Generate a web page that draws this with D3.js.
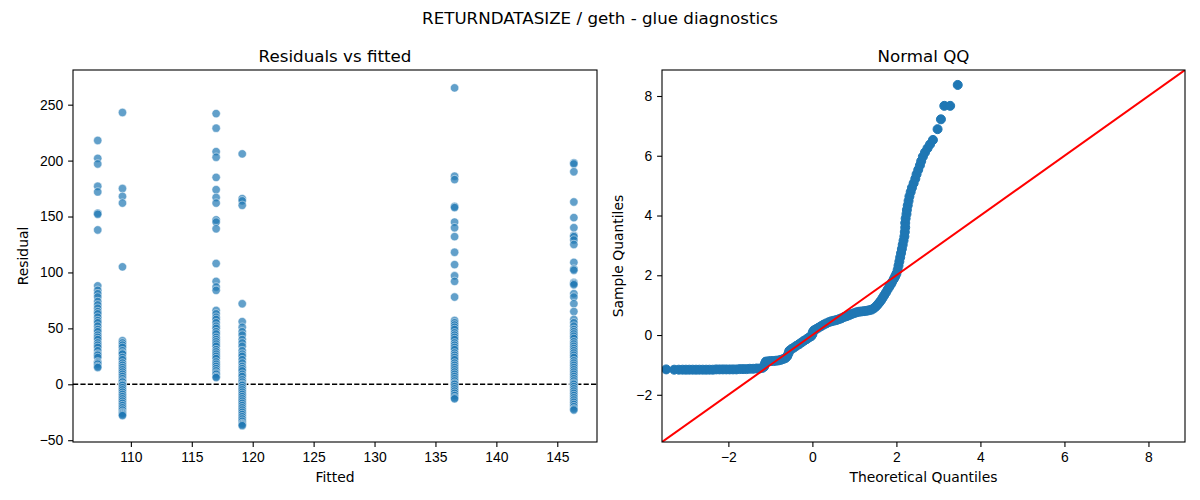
<!DOCTYPE html>
<html>
<head>
<meta charset="utf-8">
<script src="https://cdn.jsdelivr.net/npm/d3@7"></script>
<style>
  body { margin: 0; background: #fff; }
  svg { font-family: 'DejaVu Sans', sans-serif; }
  .tick text { font-size: 13.9px; fill: #000; }
  .tick line { stroke: #000; stroke-width: 1.1; }
  .title { font-size: 16.7px; fill: #000; }
  .axis-label { font-size: 13.9px; fill: #000; }
</style>
</head>
<body>
<svg width="1200" height="500"></svg>
<script>
// left panel: residuals grouped by the six fitted levels
const fittedLevels = [107.28, 109.31, 117.0, 119.14, 136.57, 146.36]
const residA = [218, 202, 197, 177, 172, 153, 152, 138, 88, 84, 81, 78, 74, 71, 68, 65, 63, 60, 57, 55, 52, 49, 47, 44, 42, 40, 37, 35, 33, 30, 27, 26, 24, 20, 19, 18, 16, 15]
const residB = [243, 175, 168, 162, 105, 39, 37, 35, 33, 30, 28, 27, 24, 22, 19, 17, 15, 13, 11, 9, 7, 5, 3, 2, 0, -1, -3, -5, -7, -9, -11, -13, -15, -17, -19, -21, -23, -25, -26, -27, -28]
const residC = [242, 229, 208, 203, 185, 174, 167, 162, 147, 145, 139, 108, 92, 87, 84, 66, 63, 60, 58, 55, 52, 50, 47, 45, 42, 40, 38, 36, 34, 31, 29, 27, 25, 23, 20, 18, 16, 14, 12, 10, 9, 7, 6]
const residD = [206, 166, 164, 160, 72, 56, 51, 47, 44, 40, 37, 34, 30, 27, 25, 22, 19, 16, 14, 12, 9, 7, 4, 2, 0, -1, -3, -5, -7, -9, -11, -13, -15, -17, -19, -21, -23, -25, -27, -29, -31, -33, -35, -36, -37]
const residE = [265, 186, 183, 159, 158, 145, 140, 132, 118, 107, 97, 92, 78, 57, 55, 53, 51, 49, 46, 44, 42, 40, 37, 35, 33, 31, 28, 26, 24, 22, 19, 17, 15, 13, 11, 9, 7, 5, 3, 1, 0, -2, -4, -6, -8, -10, -12, -13]
const residF = [198, 197, 190, 163, 149, 140, 133, 132, 129, 125, 109, 103, 102, 91, 90, 89, 81, 78, 72, 65, 58, 55, 52, 49, 47, 45, 43, 41, 38, 36, 34, 32, 30, 28, 26, 24, 21, 19, 17, 15, 13, 11, 9, 7, 5, 3, 1, 0, -2, -4, -6, -8, -10, -12, -14, -16, -18, -20, -22, -23]
const residGroups = [residA, residB, residC, residD, residE, residF]

const fittedTicks = [110, 115, 120, 125, 130, 135, 140, 145]
const residTicks = [-50, 0, 50, 100, 150, 200, 250]

// right panel: normal QQ points (theoretical, sample)
const qqTheoretical = [
  -3.48, -3.29, -3.18, -3.09, -3.01, -2.93, -2.85, -2.77, -2.69, -2.61, -2.53, -2.45, -2.37, -2.29,
  -2.21, -2.13, -2.05, -1.97, -1.89, -1.81, -1.73, -1.65, -1.57, -1.49, -1.41, -1.33, -1.26, -1.19,
  -1.15, -1.13, -1.11, -1.05, -0.99, -0.93, -0.87, -0.81, -0.75, -0.69, -0.64, -0.60, -0.57, -0.55,
  -0.50, -0.44, -0.38, -0.32, -0.26, -0.20, -0.14, -0.08, -0.03, 0.00, 0.01, 0.04, 0.09, 0.15, 0.21,
  0.27, 0.33, 0.39, 0.45, 0.51, 0.57, 0.63, 0.69, 0.75, 0.81, 0.87, 0.93, 0.99, 1.05, 1.11, 1.17,
  1.23, 1.29, 1.35, 1.41, 1.46, 1.51, 1.55, 1.59, 1.63, 1.67, 1.71, 1.75, 1.79, 1.83, 1.87, 1.90,
  1.94, 1.97, 2.00, 2.03, 2.05, 2.07, 2.09, 2.11, 2.13, 2.15, 2.17, 2.19, 2.20, 2.21, 2.21, 2.22,
  2.24, 2.25, 2.27, 2.29, 2.31, 2.34, 2.37, 2.41, 2.45, 2.48, 2.52, 2.56, 2.59, 2.63, 2.68, 2.74,
  2.80, 2.87, 2.98, 3.06, 3.14, 3.28, 3.46
]
const qqSample = [
  -1.15, -1.16, -1.16, -1.16, -1.16, -1.16, -1.16, -1.16, -1.16, -1.16, -1.16, -1.16, -1.16, -1.15,
  -1.15, -1.15, -1.15, -1.15, -1.15, -1.15, -1.14, -1.14, -1.14, -1.13, -1.13, -1.12, -1.12, -1.10,
  -1.06, -0.96, -0.89, -0.88, -0.87, -0.87, -0.86, -0.85, -0.83, -0.80, -0.77, -0.71, -0.62, -0.53,
  -0.47, -0.42, -0.36, -0.31, -0.25, -0.19, -0.14, -0.08, -0.04, 0.02, 0.10, 0.16, 0.20, 0.25, 0.30,
  0.35, 0.39, 0.43, 0.46, 0.48, 0.50, 0.53, 0.56, 0.60, 0.63, 0.66, 0.70, 0.73, 0.76, 0.78, 0.79,
  0.80, 0.81, 0.83, 0.85, 0.89, 0.95, 1.01, 1.08, 1.15, 1.24, 1.33, 1.42, 1.52, 1.61, 1.70, 1.78,
  1.88, 1.96, 2.05, 2.18, 2.32, 2.46, 2.60, 2.74, 2.88, 3.02, 3.16, 3.30, 3.45, 3.60, 3.75, 3.90,
  4.05, 4.19, 4.34, 4.49, 4.64, 4.79, 4.93, 5.08, 5.23, 5.38, 5.53, 5.68, 5.82, 5.97, 6.11, 6.25,
  6.38, 6.53, 6.89, 7.22, 7.67, 7.67, 8.37
]
const qqTicks = [-2, 0, 2, 4, 6, 8]

const svg = d3.select('svg')
const blue = '#1f77b4'

const left = { x0: 73, x1: 597, y0: 70, y1: 442 }
const right = { x0: 662, x1: 1185, y0: 70, y1: 442 }

svg.append('text')
  .attr('class', 'title')
  .attr('x', 600)
  .attr('y', 24)
  .attr('text-anchor', 'middle')
  .text('RETURNDATASIZE / geth - glue diagnostics')

const drawAxes = (box, xScale, yScale, xTicks, yTicks, title, xLabel, yLabel, yLabelX) => {
  const xAxis = d3.axisBottom(xScale)
    .tickValues(xTicks)
    .tickSizeOuter(0)
    .tickSize(4.9)
    .tickPadding(4.9)
  const xg = svg.append('g')
    .attr('transform', `translate(0, ${box.y1})`)
    .call(xAxis)
  xg.select('.domain').remove()

  const yAxis = d3.axisLeft(yScale)
    .tickValues(yTicks)
    .tickSizeOuter(0)
    .tickSize(4.9)
    .tickPadding(4.9)
  const yg = svg.append('g')
    .attr('transform', `translate(${box.x0}, 0)`)
    .call(yAxis)
  yg.select('.domain').remove()
  svg.selectAll('.tick text').attr('font-family', null)

  svg.append('rect')
    .attr('x', box.x0)
    .attr('y', box.y0)
    .attr('width', box.x1 - box.x0)
    .attr('height', box.y1 - box.y0)
    .attr('fill', 'none')
    .attr('stroke', '#000')
    .attr('stroke-width', 1.1)

  svg.append('text')
    .attr('class', 'title')
    .attr('x', (box.x0 + box.x1) / 2)
    .attr('y', 62)
    .attr('text-anchor', 'middle')
    .text(title)

  svg.append('text')
    .attr('class', 'axis-label')
    .attr('x', (box.x0 + box.x1) / 2)
    .attr('y', 482)
    .attr('text-anchor', 'middle')
    .text(xLabel)

  svg.append('text')
    .attr('class', 'axis-label')
    .attr('transform', `translate(${yLabelX}, ${(box.y0 + box.y1) / 2}) rotate(-90)`)
    .attr('text-anchor', 'middle')
    .text(yLabel)
}

// ---- residuals vs fitted ----
const xFit = d3.scaleLinear().domain([105.25, 148.26]).range([left.x0, left.x1])
const yRes = d3.scaleLinear().domain([-51.6, 281]).range([left.y1, left.y0])

const scatterData = []
residGroups.forEach((group, i) => {
  group.forEach(r => scatterData.push({ fitted: fittedLevels[i], resid: r }))
})

svg.append('line')
  .attr('x1', left.x0)
  .attr('x2', left.x1)
  .attr('y1', yRes(0))
  .attr('y2', yRes(0))
  .attr('stroke', '#000')
  .attr('stroke-width', 1.4)
  .attr('stroke-dasharray', '5.2 2.2')

svg.append('g')
  .selectAll('circle')
  .data(scatterData)
  .join('circle')
  .attr('cx', d => xFit(d.fitted))
  .attr('cy', d => yRes(d.resid))
  .attr('r', 4.2)
  .attr('fill', blue)
  .attr('fill-opacity', 0.7)
  .attr('stroke', '#fff')
  .attr('stroke-opacity', 0.7)
  .attr('stroke-width', 0.7)

drawAxes(left, xFit, yRes, fittedTicks, residTicks, 'Residuals vs fitted', 'Fitted', 'Residual', 28)

// ---- normal QQ ----
const qqDomain = [-3.58, 8.87]
const xQ = d3.scaleLinear().domain(qqDomain).range([right.x0, right.x1])
const yQ = d3.scaleLinear().domain(qqDomain).range([right.y1, right.y0])

const qqData = qqTheoretical.map((t, i) => ({ t, s: qqSample[i] }))

svg.append('defs').append('clipPath')
  .attr('id', 'qq-clip')
  .append('rect')
  .attr('x', right.x0)
  .attr('y', right.y0)
  .attr('width', right.x1 - right.x0)
  .attr('height', right.y1 - right.y0)

const qg = svg.append('g').attr('clip-path', 'url(#qq-clip)')

qg.selectAll('circle')
  .data(qqData)
  .join('circle')
  .attr('cx', d => xQ(d.t))
  .attr('cy', d => yQ(d.s))
  .attr('r', 4.5)
  .attr('fill', blue)
  .attr('stroke', blue)
  .attr('stroke-width', 1)

qg.append('line')
  .attr('x1', xQ(qqDomain[0]))
  .attr('y1', yQ(qqDomain[0]))
  .attr('x2', xQ(qqDomain[1]))
  .attr('y2', yQ(qqDomain[1]))
  .attr('stroke', '#ff0000')
  .attr('stroke-width', 2)

drawAxes(right, xQ, yQ, qqTicks, qqTicks, 'Normal QQ', 'Theoretical Quantiles', 'Sample Quantiles', 623)
</script>
</body>
</html>
